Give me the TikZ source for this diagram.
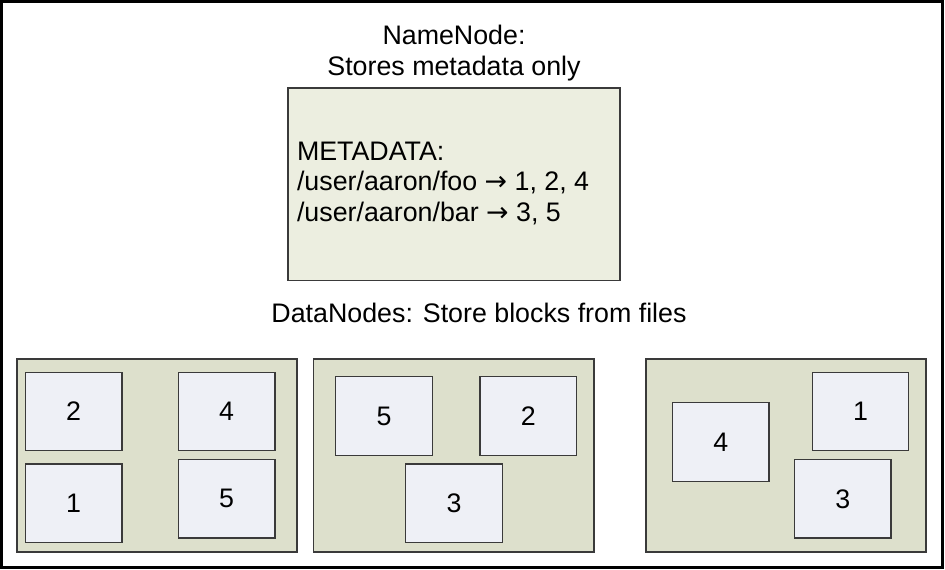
\documentclass[tikz,border=0pt]{standalone}
\usepackage{fontspec}
\setmainfont{Liberation Sans}
\newfontfamily\arrowfont{DejaVu Sans}
\newcommand{\myarrow}{{\arrowfont →}}
\definecolor{boxline}{HTML}{3A3A3A}
\definecolor{metafill}{HTML}{ECEEE0}
\definecolor{dnfill}{HTML}{DDE0CC}
\definecolor{blkfill}{HTML}{EEF0F6}
\begin{document}
\begin{tikzpicture}[x=1pt,y=-1pt,
  every node/.style={inner sep=0pt, outer sep=0pt, text=black, font=\fontsize{26.8}{30.5}\selectfont},
  frame/.style={draw=black, line width=3pt},
  metabox/.style={draw=boxline, fill=metafill, line width=1.3pt},
  dnbox/.style={draw=boxline, fill=dnfill, line width=1.3pt, minimum width=280pt, minimum height=193pt},
  blk/.style={draw=boxline, fill=blkfill, line width=1.3pt, minimum width=96.5pt, minimum height=78.5pt},
  lbl/.style={align=center, anchor=base}]
\useasboundingbox (0,0) rectangle (945,570);
\node[frame, minimum width=940.5pt, minimum height=565.5pt] (frame) at (471.75,284.25) {};
% NameNode
\node[lbl] (title) at (454,75) {NameNode:\\Stores metadata only};
\node[metabox, minimum width=332pt, minimum height=192.5pt] (meta) at (454,184.25) {};
\node[align=left, anchor=base west] (metatext) at (297,221) {METADATA:\\/user/aaron/foo \myarrow{} 1, 2, 4\\/user/aaron/bar \myarrow{} 3, 5};
% DataNodes
\node[lbl] (dntitle) at (479,322) {DataNodes: Store blocks from files};
\node[dnbox] (dn1) at (157,455.5) {};
\node[dnbox, minimum width=280.7pt] (dn2) at (453.7,455.5) {};
\node[dnbox] (dn3) at (786,455.5) {};
% blocks in DataNode 1
\node[blk] (a2) at (73.7,411.5) {2};
\node[blk] (a4) at (226.7,411.5) {4};
\node[blk] (a1) at (73.7,503.3) {1};
\node[blk] (a5) at (226.7,498.8) {5};
% blocks in DataNode 2
\node[blk] (b5) at (384,416) {5};
\node[blk] (b2) at (528.3,416) {2};
\node[blk] (b3) at (454,503.3) {3};
% blocks in DataNode 3
\node[blk] (c4) at (720.7,442) {4};
\node[blk] (c1) at (860.5,411.5) {1};
\node[blk] (c3) at (842.8,498.8) {3};
\end{tikzpicture}
\end{document}
